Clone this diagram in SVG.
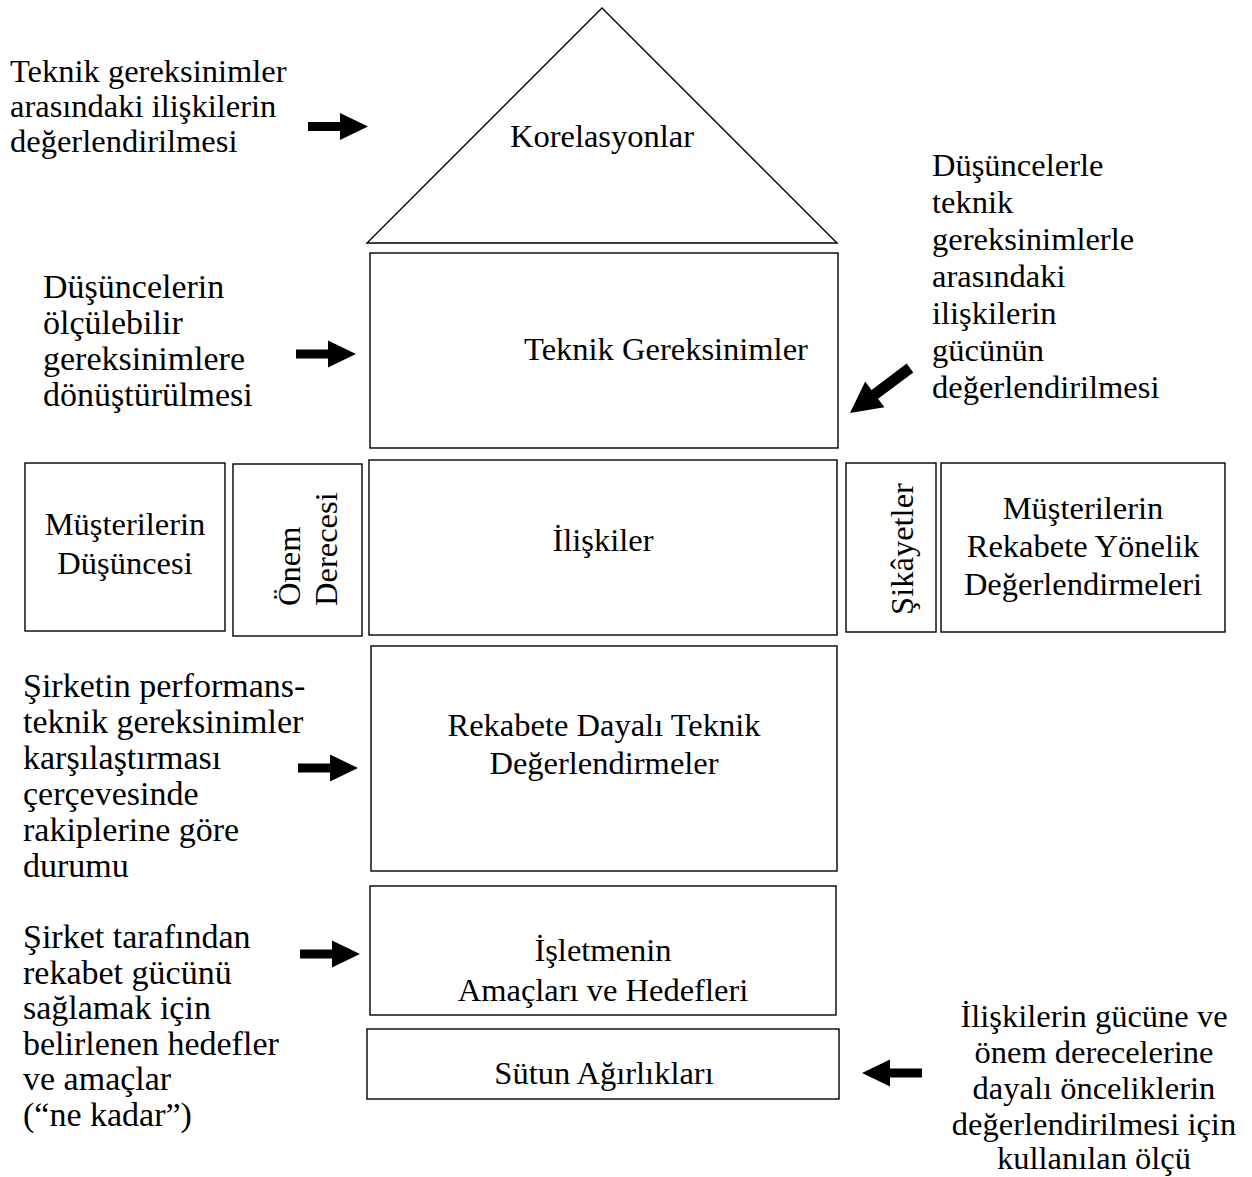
<svg xmlns="http://www.w3.org/2000/svg" xmlns:xlink="http://www.w3.org/1999/xlink" width="1252" height="1177" viewBox="0 0 1252 1177">
<style>
.box{fill:none;stroke:#000;stroke-width:1.4}
.t{font-family:"Liberation Serif","Times New Roman",serif;font-size:32.5px;fill:#000}
.l{font-size:34px}
.c{text-anchor:middle}
.arr{fill:#000}
</style>
<defs>
<path id="arrowR" d="M0,-4.5 H32 V-13.5 L60,0 L32,13.5 V4.5 H0 Z"/>
<path id="arrowD" d="M0,-5.5 H44 V-16 L75,0 L44,16 V5.5 H0 Z"/>
</defs>
<rect width="1252" height="1177" fill="#fff"/>

<g id="korelasyonlar">
<polygon class="box" points="602,8 837,243 367,243"/>
<text class="t c" x="602" y="147">Korelasyonlar</text>
</g>
<g id="teknik-gereksinimler">
<rect class="box" x="370" y="253" width="468" height="195"/>
<text class="t c" x="666" y="360">Teknik Gereksinimler</text>
</g>
<g id="musterilerin-dusuncesi">
<rect class="box" x="25" y="463" width="200" height="168"/>
<text class="t c" x="125" y="535">Müşterilerin</text>
<text class="t c" x="125" y="574">Düşüncesi</text>
</g>
<g id="onem-derecesi">
<rect class="box" x="233" y="464" width="129" height="172"/>
<text class="t" transform="translate(300,606) rotate(-90)">Önem</text>
<text class="t" transform="translate(337,606) rotate(-90)">Derecesi</text>
</g>
<g id="iliskiler">
<rect class="box" x="369" y="460" width="468" height="175"/>
<text class="t c" x="603" y="551">İlişkiler</text>
</g>
<g id="sikayetler">
<rect class="box" x="846" y="463" width="90" height="169"/>
<text class="t c" transform="translate(913,549) rotate(-90)">Şikâyetler</text>
</g>
<g id="rekabete-yonelik">
<rect class="box" x="941" y="463" width="284" height="169"/>
<text class="t c" x="1083" y="519">Müşterilerin</text>
<text class="t c" x="1083" y="557">Rekabete Yönelik</text>
<text class="t c" x="1083" y="595">Değerlendirmeleri</text>
</g>
<g id="rekabete-dayali">
<rect class="box" x="371" y="646" width="466" height="225"/>
<text class="t c" x="604" y="736">Rekabete Dayalı Teknik</text>
<text class="t c" x="604" y="774">Değerlendirmeler</text>
</g>
<g id="isletmenin">
<rect class="box" x="370" y="886" width="466" height="129"/>
<text class="t c" x="603" y="961">İşletmenin</text>
<text class="t c" x="603" y="1001">Amaçları ve Hedefleri</text>
</g>
<g id="sutun-agirliklari">
<rect class="box" x="367" y="1029" width="472" height="70"/>
<text class="t c" x="604" y="1084">Sütun Ağırlıkları</text>
</g>

<g id="label-korelasyon">
<text class="t" x="10" y="82">Teknik gereksinimler</text>
<text class="t" x="10" y="117">arasındaki ilişkilerin</text>
<text class="t" x="10" y="152">değerlendirilmesi</text>
</g>
<g id="label-dusuncelerin">
<text class="t l" x="43" y="298">Düşüncelerin</text>
<text class="t l" x="43" y="334">ölçülebilir</text>
<text class="t l" x="43" y="370">gereksinimlere</text>
<text class="t l" x="43" y="406">dönüştürülmesi</text>
</g>
<g id="label-iliskiler-gucu">
<text class="t" x="932" y="176">Düşüncelerle</text>
<text class="t" x="932" y="213">teknik</text>
<text class="t" x="932" y="250">gereksinimlerle</text>
<text class="t" x="932" y="287">arasındaki</text>
<text class="t" x="932" y="324">ilişkilerin</text>
<text class="t" x="932" y="361">gücünün</text>
<text class="t" x="932" y="398">değerlendirilmesi</text>
</g>
<g id="label-performans">
<text class="t l" x="23" y="697">Şirketin performans-</text>
<text class="t l" x="23" y="733">teknik gereksinimler</text>
<text class="t l" x="23" y="769">karşılaştırması</text>
<text class="t l" x="23" y="805">çerçevesinde</text>
<text class="t l" x="23" y="841">rakiplerine göre</text>
<text class="t l" x="23" y="877">durumu</text>
</g>
<g id="label-hedefler">
<text class="t l" x="23" y="948">Şirket tarafından</text>
<text class="t l" x="23" y="983.5">rekabet gücünü</text>
<text class="t l" x="23" y="1019">sağlamak için</text>
<text class="t l" x="23" y="1054.5">belirlenen hedefler</text>
<text class="t l" x="23" y="1090">ve amaçlar</text>
<text class="t l" x="23" y="1126">(“ne kadar”)</text>
</g>
<g id="label-olcu">
<text class="t c" x="1094" y="1027">İlişkilerin gücüne ve</text>
<text class="t c" x="1094" y="1063">önem derecelerine</text>
<text class="t c" x="1094" y="1099">dayalı önceliklerin</text>
<text class="t c" x="1094" y="1135">değerlendirilmesi için</text>
<text class="t c" x="1094" y="1169">kullanılan ölçü</text>
</g>

<g id="connectors" class="arr">
<use xlink:href="#arrowR" transform="translate(308,126.5)"/>
<use xlink:href="#arrowR" transform="translate(296,354)"/>
<use xlink:href="#arrowR" transform="translate(298,768)"/>
<use xlink:href="#arrowR" transform="translate(300,954)"/>
<use xlink:href="#arrowR" transform="translate(922,1073) rotate(180)"/>
<use xlink:href="#arrowD" transform="translate(910,368) rotate(143.13)"/>
</g>
</svg>
